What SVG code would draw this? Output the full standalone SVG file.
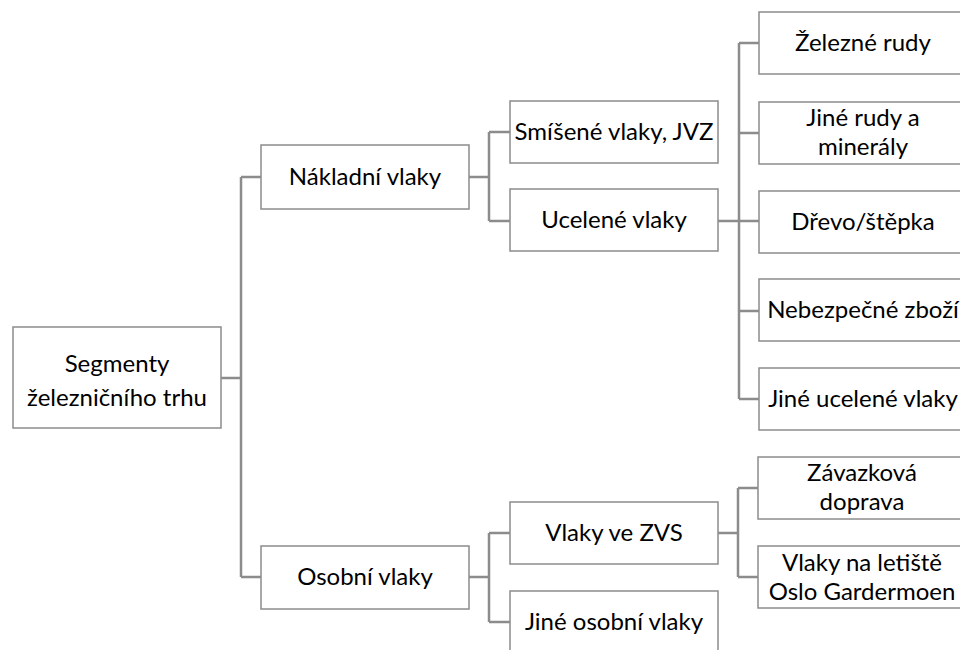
<svg xmlns="http://www.w3.org/2000/svg" width="960" height="650" viewBox="0 0 960 650">
<style>
.box{fill:#fff;stroke:#8c8c8c;stroke-width:1.5}
.con{fill:none;stroke:#8c8c8c;stroke-width:2.5}
text{font-family:Lato,"Liberation Sans",sans-serif;font-size:24px;fill:#000;text-anchor:middle}
</style>
<rect width="960" height="650" fill="#fff"/>
<g id="connectors" class="con">
<path d="M221,378H241M241,177V577M241,177H261M241,577H261"/>
<path d="M469,177H489M489,132V221M489,132H510M489,221H510"/>
<path d="M718,221H739M739,43V399M739,43H759M739,133H759M739,221H759M739,311H759M739,399H759"/>
<path d="M469,577H489M489,533V622M489,533H510M489,622H510"/>
<path d="M718,533H738M738,488V577M738,488H758M738,577H758"/>
</g>
<g id="root"><rect class="box" x="13" y="327" width="208" height="101"/><text x="117" y="372">Segmenty</text><text x="117" y="406">železničního trhu</text></g>
<g id="nakladni"><rect class="box" x="261" y="145" width="208" height="64"/><text x="365" y="185">Nákladní vlaky</text></g>
<g id="smisene"><rect class="box" x="510" y="101" width="208" height="62"/><text x="614" y="140">Smíšené vlaky, JVZ</text></g>
<g id="ucelene"><rect class="box" x="510" y="189" width="208" height="62"/><text x="614" y="228">Ucelené vlaky</text></g>
<g id="zelezne"><rect class="box" x="759" y="12" width="208" height="62"/><text x="863" y="51">Železné rudy</text></g>
<g id="jine-rudy"><rect class="box" x="759" y="102" width="208" height="62"/><text x="863" y="126">Jiné rudy a</text><text x="863" y="155">minerály</text></g>
<g id="drevo"><rect class="box" x="759" y="191" width="208" height="62"/><text x="863" y="230">Dřevo/štěpka</text></g>
<g id="nebezpecne"><rect class="box" x="759" y="279" width="208" height="62"/><text x="863" y="318">Nebezpečné zboží</text></g>
<g id="jine-ucelene"><rect class="box" x="759" y="368" width="208" height="62"/><text x="863" y="407">Jiné ucelené vlaky</text></g>
<g id="osobni"><rect class="box" x="261" y="546" width="208" height="63"/><text x="365" y="585">Osobní vlaky</text></g>
<g id="zvs"><rect class="box" x="510" y="502" width="208" height="62"/><text x="614" y="541">Vlaky ve ZVS</text></g>
<g id="jine-osobni"><rect class="box" x="510" y="591" width="208" height="62"/><text x="614" y="630">Jiné osobní vlaky</text></g>
<g id="zavazkova"><rect class="box" x="758" y="457" width="208" height="62"/><text x="862" y="481">Závazková</text><text x="862" y="510">doprava</text></g>
<g id="letiste"><rect class="box" x="758" y="546" width="208" height="62"/><text x="862" y="571">Vlaky na letiště</text><text x="862" y="600">Oslo Gardermoen</text></g>
</svg>
